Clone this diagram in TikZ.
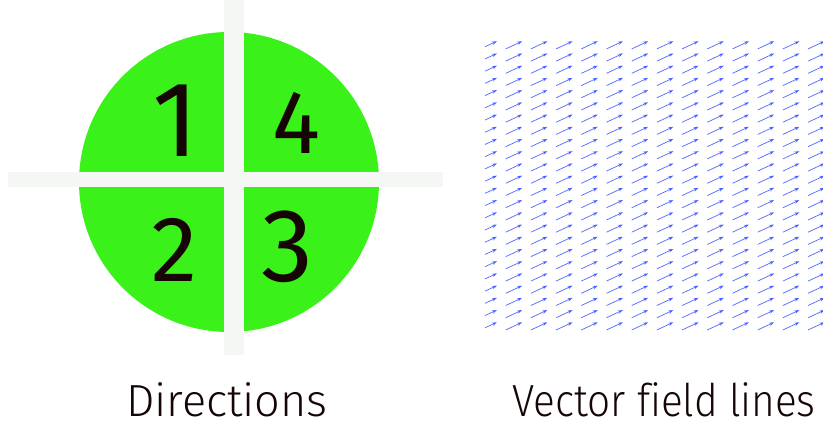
\documentclass[tikz,border=0pt]{standalone}
\usepackage{fontspec}
\setmainfont{Fira Sans Light}[Ligatures=CommonOff]
\newfontfamily\digitfont{Fira Sans}
\usetikzlibrary{arrows.meta}
\definecolor{quadgreen}{HTML}{3AF21A}
\definecolor{barwhite}{HTML}{F5F7F5}
\definecolor{fieldblue}{HTML}{3A55FF}
\definecolor{inkdark}{HTML}{150505}
\tikzset{
  digit/.style={inner sep=0pt, text=inkdark},
  caption/.style={inner sep=0pt, text=inkdark, font=\fontsize{45}{50}\selectfont},
  fieldarrow/.style={draw=fieldblue, line width=0.75pt, opacity=0.85,
    -{Stealth[length=5pt,width=3.4pt]}}
}
\begin{document}
\begin{tikzpicture}[x=1pt,y=-1pt]
  \useasboundingbox (0,0) rectangle (823,427);
  % disc split into four quadrants by two light bars
  \fill[quadgreen] (229,182) circle[radius=150];
  \fill[barwhite] (224,0) rectangle (244,355);
  \fill[barwhite] (8,172) rectangle (443,187);
  % quadrant numbers
  \node[digit, font=\digitfont\fontsize{107}{110}\selectfont] (d1) at (176,121) {1};
  \node[digit, font=\digitfont\fontsize{90}{94}\selectfont] (d4) at (296,123) {4};
  \node[digit, font=\digitfont\fontsize{93}{97}\selectfont] (d2) at (175,250) {2};
  \node[digit, font=\digitfont\fontsize{104}{108}\selectfont] (d3) at (287,247) {3};
  % uniform vector field
  \begin{scope}
    \clip (470,30) rectangle (823,345);
    \foreach \r in {0,...,23}{
      \foreach \c in {0,...,13}{
        \pgfmathsetmacro{\hx}{497+25.2*\c}
        \pgfmathsetmacro{\hy}{45+12.22*\r-3.8}
        \ifnum\c=0
          \pgfmathsetmacro{\tx}{\hx-12}
          \pgfmathsetmacro{\ty}{\hy+5.5}
        \else
          \pgfmathsetmacro{\tx}{\hx-16.5}
          \pgfmathsetmacro{\ty}{\hy+7.7}
        \fi
        \coordinate (t-\r-\c) at (\tx,\ty);
        \coordinate (h-\r-\c) at (\hx,\hy);
        \draw[fieldarrow] (t-\r-\c) -- (h-\r-\c);
      }
    }
  \end{scope}
  % captions
  \node[caption] (capdir) at (227,400) {Directions};
  \node[caption, xscale=0.9] (capvec) at (664,400) {Vector field lines};
\end{tikzpicture}
\end{document}
